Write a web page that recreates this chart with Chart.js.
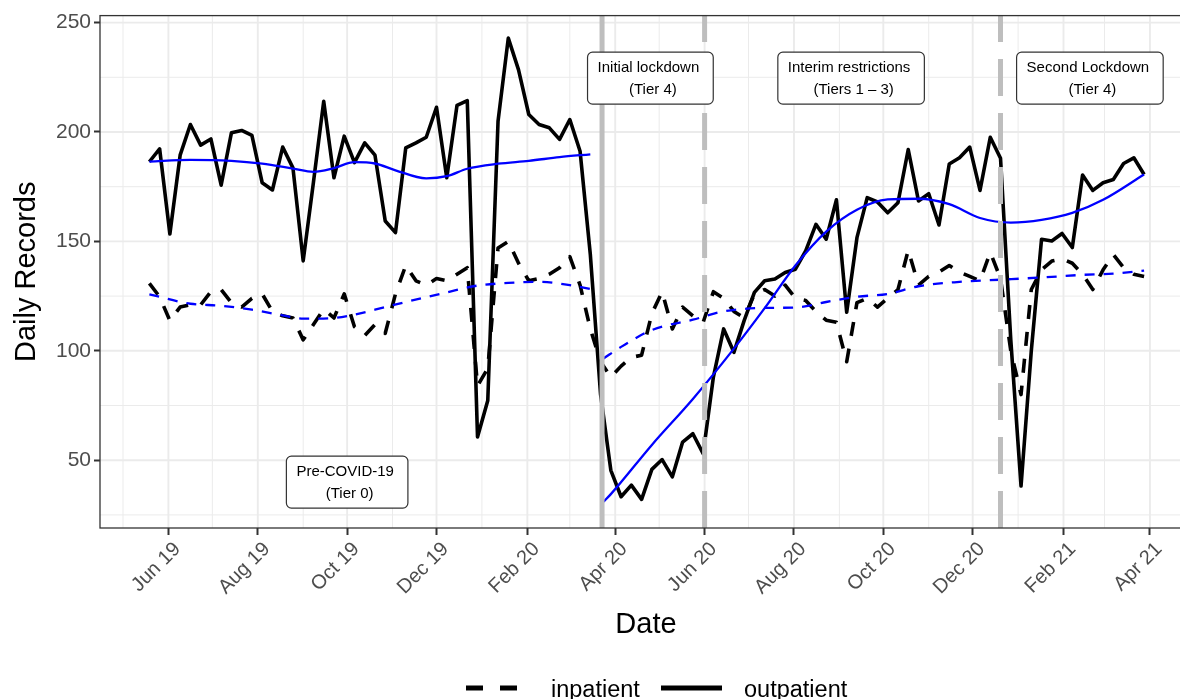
<!DOCTYPE html>
<html>
<head>
<meta charset="utf-8">
<script src="https://cdn.jsdelivr.net/npm/chart.js@4.4.1/dist/chart.umd.min.js"></script>
<style>
  html, body { margin: 0; padding: 0; background: #ffffff; overflow: hidden; width: 1180px; height: 699px; }
  canvas { display: block; }
</style>
</head>
<body>
<canvas id="c" width="1200" height="699"></canvas>
<script>
// ---------------- DATA ----------------
const weekDates = [
 '2019-05-19','2019-05-26','2019-06-02','2019-06-09','2019-06-16','2019-06-23','2019-06-30','2019-07-07','2019-07-14','2019-07-21',
 '2019-07-28','2019-08-04','2019-08-11','2019-08-18','2019-08-25','2019-09-01','2019-09-08','2019-09-15','2019-09-22','2019-09-29',
 '2019-10-06','2019-10-13','2019-10-20','2019-10-27','2019-11-03','2019-11-10','2019-11-17','2019-11-24','2019-12-01','2019-12-08',
 '2019-12-15','2019-12-22','2019-12-29','2020-01-05','2020-01-12','2020-01-19','2020-01-26','2020-02-02','2020-02-09','2020-02-16',
 '2020-02-23','2020-03-01','2020-03-08','2020-03-15','2020-03-22','2020-03-29','2020-04-05','2020-04-12','2020-04-19','2020-04-26',
 '2020-05-03','2020-05-10','2020-05-17','2020-05-24','2020-05-31','2020-06-07','2020-06-14','2020-06-21','2020-06-28','2020-07-05',
 '2020-07-12','2020-07-19','2020-07-26','2020-08-02','2020-08-09','2020-08-16','2020-08-23','2020-08-30','2020-09-06','2020-09-13',
 '2020-09-20','2020-09-27','2020-10-04','2020-10-11','2020-10-18','2020-10-25','2020-11-01','2020-11-08','2020-11-15','2020-11-22',
 '2020-11-29','2020-12-06','2020-12-13','2020-12-20','2020-12-27','2021-01-03','2021-01-10','2021-01-17','2021-01-24','2021-01-31',
 '2021-02-07','2021-02-14','2021-02-21','2021-02-28','2021-03-07','2021-03-14','2021-03-21','2021-03-28'
];
const outpatient = [
 186.4, 192.3, 153.4, 189.4, 203.4, 194.0, 196.8, 175.7, 199.6, 200.7,
 198.4, 176.8, 173.5, 193.1, 183.6, 141.1, 177.0, 214.0, 179.1, 198.1,
 186.0, 195.0, 189.4, 159.3, 154.0, 192.7, 195.0, 197.6, 211.3, 179.1,
 212.2, 214.3, 60.6, 77.3, 204.9, 242.9, 228.4, 208.0, 203.4, 201.9,
 196.6, 205.7, 191.2, 144.0, 80.0, 45.4, 33.3, 38.6, 32.1, 45.8,
 50.3, 42.4, 58.3, 62.1, 53.0, 88.0, 110.0, 99.3, 113.8, 126.7,
 132.0, 132.8, 135.8, 137.3, 145.7, 157.8, 151.0, 169.0, 117.6, 151.7,
 170.0, 168.0, 163.1, 167.7, 192.0, 168.5, 171.8, 157.5, 185.4, 188.2,
 193.1, 173.3, 197.6, 188.0, 105.0, 38.2, 100.0, 151.0, 150.2, 153.6,
 147.2, 180.3, 173.3, 176.8, 178.3, 185.6, 188.2, 180.6
];
const inpatient = [
 130.8, 124.7, 113.8, 120, 121, 121, 127, 128, 122, 120,
 124, 126, 118, 116, 115, 105, 112, 119, 115, 126,
 111, 107, 112, 108, 126, 139, 132, 130, 133, 132,
 135, 138, 84, 92, 147, 150, 140, 132, 133, 135,
 138, 143, 130, 110, 95, 88, 93, 97, 98, 117,
 127, 110, 120, 116, 113, 127, 124, 118, 115, 126,
 128, 125, 130, 124, 123, 118, 114, 113, 95, 122,
 124, 120, 124, 128, 146, 130, 134, 136, 139, 136,
 134, 132, 145, 133, 100, 80, 128, 137, 141, 142,
 140, 135, 128, 137, 144, 138, 135, 134
];

// smoothed trends
const smoothOutPreDates = ['2019-05-19','2019-06-16','2019-07-14','2019-08-04','2019-08-25','2019-09-08','2019-09-22','2019-10-06','2019-10-20','2019-11-03','2019-11-24','2019-12-08','2019-12-22','2020-01-12','2020-02-02','2020-02-23','2020-03-15'];
const smoothOutPre = [186.5, 187.3, 186.8, 185.5, 183.3, 181.8, 183.5, 186.2, 185.6, 182.5, 178.8, 179.8, 183.2, 185.5, 186.8, 188.5, 189.8];
const smoothOutPostDates = ['2020-03-24','2020-03-29','2020-04-26','2020-05-24','2020-06-21','2020-07-12','2020-08-02','2020-08-23','2020-09-13','2020-10-04','2020-10-25','2020-11-15','2020-12-06','2020-12-27','2021-01-17','2021-02-07','2021-02-28','2021-03-28'];
const smoothOutPost = [31, 34.5, 57, 78, 101, 119.5, 139, 154.5, 164.5, 169.2, 169.5, 167, 160.7, 158.6, 159.8, 163, 169, 180.6];
const smoothInPreDates = ['2019-05-19','2019-06-16','2019-07-07','2019-07-28','2019-08-18','2019-09-01','2019-09-22','2019-10-06','2019-10-20','2019-11-10','2019-12-08','2019-12-29','2020-01-19','2020-02-09','2020-03-01','2020-03-15'];
const smoothInPre = [125.8, 121.5, 120.6, 118.8, 116.2, 114.7, 115.0, 116.5, 118.8, 122.3, 126.7, 129.8, 131.0, 131.5, 130.0, 128.2];
const smoothInPostDates = ['2020-03-24','2020-04-05','2020-04-26','2020-05-24','2020-06-14','2020-07-12','2020-08-02','2020-08-23','2020-09-13','2020-10-04','2020-10-25','2020-11-22','2020-12-20','2021-01-17','2021-02-14','2021-03-07','2021-03-28'];
const smoothInPost = [96.5, 101.8, 109.5, 114.2, 118.0, 119.6, 119.8, 122.3, 124.7, 126.0, 129.5, 131.5, 132.5, 133.5, 134.7, 135.3, 136.6];

// axes
const xTickDates = ['2019-06-01','2019-08-01','2019-10-01','2019-12-01','2020-02-01','2020-04-01','2020-06-01','2020-08-01','2020-10-01','2020-12-01','2021-02-01','2021-04-01'];
const xTickLabels = ['Jun 19','Aug 19','Oct 19','Dec 19','Feb 20','Apr 20','Jun 20','Aug 20','Oct 20','Dec 20','Feb 21','Apr 21'];
const xMinorDates = ['2019-05-01','2019-07-01','2019-09-01','2019-11-01','2020-01-01','2020-03-01','2020-05-01','2020-07-01','2020-09-01','2020-11-01','2021-01-01','2021-03-01','2021-05-01'];
const yTicks = [50, 100, 150, 200, 250];
const yMinor = [25, 75, 125, 175, 225];

// events and period labels
const eventDates = ['2020-03-23', '2020-06-01', '2020-12-20'];
const eventDashed = [false, true, true];
const periodLine1 = ['Pre-COVID-19', 'Initial lockdown', 'Interim restrictions', 'Second Lockdown'];
const periodLine2 = ['(Tier 0)', '(Tier 4)', '(Tiers 1 \u2013 3)', '(Tier 4)'];
const periodAnchorDates = ['2019-10-01', '2020-04-25', '2020-09-09', '2021-02-19'];
const periodAnchorValues = [40, 224.6, 224.6, 224.6];

// ---------------- HELPERS ----------------
const BASE = Date.UTC(2019, 5, 1);
function day(s) { const p = s.split('-').map(Number); return (Date.UTC(p[0], p[1] - 1, p[2]) - BASE) / 86400000; }
function pts(dates, vals) { return dates.map((d, i) => ({ x: day(d), y: vals[i] })); }

const FONT = '"Liberation Sans", Arial, Helvetica, sans-serif';
const X_MIN = -46.7, X_MAX = 698.7;
const Y_MIN = 19.02, Y_MAX = 253.19;

const decor = {
  id: 'decor',
  beforeDatasetsDraw(chart) {
    const { ctx, chartArea: a, scales: { x, y } } = chart;
    ctx.save();
    ctx.beginPath(); ctx.rect(a.left, a.top, a.right - a.left, a.bottom - a.top); ctx.clip();
    ctx.fillStyle = '#ffffff';
    ctx.fillRect(a.left, a.top, a.right - a.left, a.bottom - a.top);
    ctx.strokeStyle = '#ebebeb';
    ctx.lineWidth = 1;
    yMinor.forEach(v => { const py = y.getPixelForValue(v); ctx.beginPath(); ctx.moveTo(a.left, py); ctx.lineTo(a.right, py); ctx.stroke(); });
    xMinorDates.forEach(d => { const px = x.getPixelForValue(day(d)); ctx.beginPath(); ctx.moveTo(px, a.top); ctx.lineTo(px, a.bottom); ctx.stroke(); });
    ctx.lineWidth = 1.9;
    yTicks.forEach(v => { const py = y.getPixelForValue(v); ctx.beginPath(); ctx.moveTo(a.left, py); ctx.lineTo(a.right, py); ctx.stroke(); });
    xTickDates.forEach(d => { const px = x.getPixelForValue(day(d)); ctx.beginPath(); ctx.moveTo(px, a.top); ctx.lineTo(px, a.bottom); ctx.stroke(); });
    ctx.restore();
  },
  afterDatasetsDraw(chart) {
    const { ctx, chartArea: a, scales: { x, y } } = chart;
    ctx.save();
    ctx.beginPath(); ctx.rect(a.left, a.top, a.right - a.left, a.bottom - a.top); ctx.clip();
    ctx.strokeStyle = '#bebebe';
    ctx.lineWidth = 5;
    ctx.lineCap = 'butt';
    eventDates.forEach((d, i) => {
      const px = x.getPixelForValue(day(d));
      ctx.setLineDash(eventDashed[i] ? [37, 17] : []);
      ctx.beginPath(); ctx.moveTo(px, a.bottom); ctx.lineTo(px, a.top); ctx.stroke();
    });
    ctx.restore();

    ctx.save();
    ctx.strokeStyle = '#333333';
    ctx.lineWidth = 1.3;
    ctx.strokeRect(a.left, a.top, a.right - a.left, a.bottom - a.top);
    ctx.restore();

    ctx.save();
    ctx.font = '15px ' + FONT;
    periodLine1.forEach((t1, i) => {
      const t2 = periodLine2[i];
      const cx = x.getPixelForValue(day(periodAnchorDates[i]));
      const cy = y.getPixelForValue(periodAnchorValues[i]);
      const w = Math.max(ctx.measureText(t1).width, ctx.measureText(t2).width) + 24;
      const h = 52;
      ctx.beginPath();
      ctx.roundRect(cx - w / 2, cy - h / 2, w, h, 5);
      ctx.fillStyle = '#ffffff'; ctx.fill();
      ctx.strokeStyle = '#333333'; ctx.lineWidth = 1.2; ctx.stroke();
      ctx.fillStyle = '#000000';
      ctx.textAlign = 'center'; ctx.textBaseline = 'middle';
      ctx.fillText(t1, cx - 2, cy - 10.5);
      ctx.fillText(t2, cx + 2.5, cy + 11.5);
    });
    ctx.restore();

    ctx.save();
    ctx.font = '20px ' + FONT;
    ctx.fillStyle = '#4d4d4d';
    ctx.textAlign = 'right'; ctx.textBaseline = 'top';
    xTickDates.forEach((d, i) => {
      const px = x.getPixelForValue(day(d));
      ctx.save();
      ctx.translate(px + 2, a.bottom + 11);
      ctx.rotate(-Math.PI / 4);
      ctx.fillText(xTickLabels[i], 0, 0);
      ctx.restore();
    });
    ctx.restore();

    ctx.save();
    ctx.fillStyle = '#000000';
    ctx.font = '29px ' + FONT;
    ctx.textAlign = 'center'; ctx.textBaseline = 'alphabetic';
    ctx.fillText('Date', (a.left + a.right) / 2, 633);
    ctx.translate(35, (a.top + a.bottom) / 2);
    ctx.rotate(-Math.PI / 2);
    ctx.fillText('Daily Records', 0, 0);
    ctx.restore();

    ctx.save();
    ctx.strokeStyle = '#000000';
    ctx.lineWidth = 5;
    ctx.lineCap = 'butt';
    ctx.setLineDash([17, 17]);
    ctx.beginPath(); ctx.moveTo(466, 688); ctx.lineTo(520, 688); ctx.stroke();
    ctx.setLineDash([]);
    ctx.beginPath(); ctx.moveTo(661, 688); ctx.lineTo(722, 688); ctx.stroke();
    ctx.fillStyle = '#000000';
    ctx.font = '23.5px ' + FONT;
    ctx.textAlign = 'left'; ctx.textBaseline = 'alphabetic';
    ctx.fillText('inpatient', 551, 697);
    ctx.fillText('outpatient', 744, 697);
    ctx.restore();
  }
};

const common = { pointRadius: 0, pointHoverRadius: 0, fill: false, borderJoinStyle: 'round', borderCapStyle: 'butt' };

new Chart(document.getElementById('c'), {
  type: 'line',
  data: {
    datasets: [
      Object.assign({ label: 'trend outpatient pre', data: pts(smoothOutPreDates, smoothOutPre), borderColor: '#0000ff', borderWidth: 2.3, cubicInterpolationMode: 'monotone' }, common),
      Object.assign({ label: 'trend outpatient post', data: pts(smoothOutPostDates, smoothOutPost), borderColor: '#0000ff', borderWidth: 2.3, cubicInterpolationMode: 'monotone' }, common),
      Object.assign({ label: 'trend inpatient pre', data: pts(smoothInPreDates, smoothInPre), borderColor: '#0000ff', borderWidth: 2.3, borderDash: [10, 9], cubicInterpolationMode: 'monotone' }, common),
      Object.assign({ label: 'trend inpatient post', data: pts(smoothInPostDates, smoothInPost), borderColor: '#0000ff', borderWidth: 2.3, borderDash: [10, 9], cubicInterpolationMode: 'monotone' }, common),
      Object.assign({ label: 'outpatient', data: pts(weekDates, outpatient), borderColor: '#000000', borderWidth: 3.6, tension: 0 }, common),
      Object.assign({ label: 'inpatient', data: pts(weekDates, inpatient), borderColor: '#000000', borderWidth: 3.6, borderDash: [14, 13], tension: 0 }, common)
    ]
  },
  options: {
    responsive: false,
    devicePixelRatio: 1,
    animation: false,
    events: [],
    layout: { padding: { top: 14, right: 8, left: 0, bottom: 0 } },
    plugins: { legend: { display: false }, tooltip: { enabled: false } },
    scales: {
      x: {
        type: 'linear', min: X_MIN, max: X_MAX,
        afterBuildTicks: s => { s.ticks = xTickDates.map(d => ({ value: day(d) })); },
        ticks: { display: false },
        grid: { drawOnChartArea: false, drawTicks: true, tickLength: 7, tickColor: '#333333', tickWidth: 2 },
        border: { display: false },
        afterFit: s => { s.height = 171; }
      },
      y: {
        type: 'linear', min: Y_MIN, max: Y_MAX,
        afterBuildTicks: s => { s.ticks = yTicks.map(v => ({ value: v })); },
        ticks: { color: '#4d4d4d', font: { size: 21, family: FONT }, padding: 3 },
        grid: { drawOnChartArea: false, drawTicks: true, tickLength: 6, tickColor: '#333333', tickWidth: 2 },
        border: { display: false },
        afterFit: s => { s.width = 100; }
      }
    }
  },
  plugins: [decor]
});
</script>
</body>
</html>
